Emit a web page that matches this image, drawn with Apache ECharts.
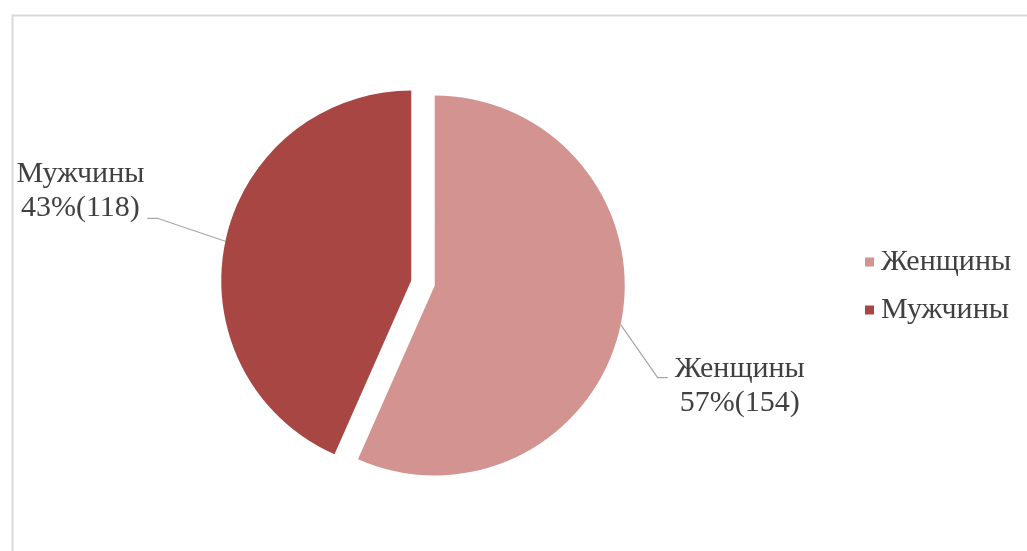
<!DOCTYPE html>
<html>
<head>
<meta charset="utf-8">
<script src="https://cdn.jsdelivr.net/npm/echarts@6/dist/echarts.min.js"></script>
<style>
  html, body { margin: 0; padding: 0; background: #ffffff; }
  #chart { width: 1027px; height: 551px; }
</style>
</head>
<body>
<div id="chart"></div>
<script>
// Respondents by sex
const categories = ['Женщины', 'Мужчины'];
const counts = [154, 118];
const colors = ['#D39391', '#A84644'];

// Label-line bends (dx, dy from the slice edge) and label block offsets
const bends = [[37, 53], [-68, -23]];
const labelShift = [[7, 8], [-3, -27]];

const pieCenter = [423, 283];
const pieRadius = 190;
const explode = 12;

const textColor = '#404040';
const fontFamily = '"Liberation Serif", "Times New Roman", serif';

const total = counts.reduce((s, v) => s + v, 0);

// Each slice gets its own pie, pushed out along the slice's bisector
function sliceSeries(k) {
  let before = 0;
  for (let i = 0; i < k; i++) before += counts[i];
  const mid = 2 * Math.PI * (before + counts[k] / 2) / total; // clockwise from 12 o'clock
  const center = [
    pieCenter[0] + explode * Math.sin(mid),
    pieCenter[1] - explode * Math.cos(mid)
  ];
  return {
    type: 'pie',
    center,
    radius: pieRadius,
    startAngle: 90,
    clockwise: true,
    percentPrecision: 0,
    avoidLabelOverlap: false,
    emphasis: { disabled: true },
    label: {
      position: 'outside',
      formatter: '{b}\n{d}%({c})',
      fontFamily,
      fontSize: 30,
      lineHeight: 34,
      color: textColor,
      align: 'center'
    },
    labelLine: {
      length: 20,
      length2: 10,
      lineStyle: { color: '#A6A6A6', width: 1.2 }
    },
    labelLayout: function (p) {
      const pts = p.labelLinePoints;
      if (!pts) return {};
      const a = pts[0];
      const b = bends[k];
      const right = b[0] > 0;
      const bend = [a[0] + b[0], a[1] + b[1]];
      const end = [bend[0] + (right ? 10 : -10), bend[1]];
      const w = p.labelRect.width;
      const s = labelShift[k];
      return {
        x: end[0] + s[0] + (right ? w / 2 : -w / 2),
        y: end[1] + s[1],
        align: 'center',
        verticalAlign: 'middle',
        labelLinePoints: [a, bend, end]
      };
    },
    data: categories.map((name, i) => {
      const own = i === k;
      return {
        name,
        value: counts[i],
        itemStyle: own ? { color: colors[i] } : { color: colors[i], opacity: 0 },
        label: { show: own },
        labelLine: { show: own }
      };
    })
  };
}

const chart = echarts.init(document.getElementById('chart'), null, { renderer: 'canvas' });

chart.setOption({
  animation: false,
  graphic: [{
    type: 'rect',
    left: 10, top: 13,
    shape: { width: 1040, height: 560 },
    style: { fill: 'none', stroke: '#d9d9d9', lineWidth: 2 },
    silent: true, z: -1
  }],
  legend: {
    orient: 'vertical',
    left: 860,
    top: 242,
    icon: 'rect',
    itemWidth: 9,
    itemHeight: 9,
    itemGap: 18,
    selectedMode: false,
    data: categories.map((name, i) => ({ name, itemStyle: { color: colors[i], opacity: 1 } })),
    textStyle: { fontFamily, fontSize: 30, lineHeight: 30, color: textColor, padding: [0, 0, 0, 2] }
  },
  series: categories.map((_, k) => sliceSeries(k))
});
</script>
</body>
</html>
